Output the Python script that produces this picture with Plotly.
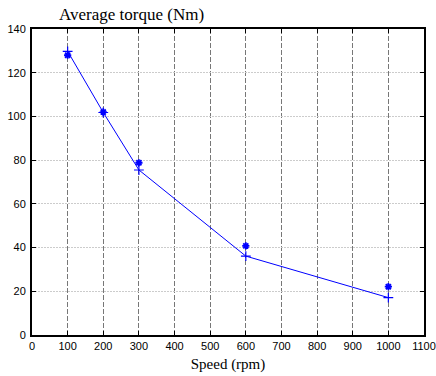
import plotly.graph_objects as go

speed = [100, 200, 300, 600, 1000]
torque_line = [129.8, 101.8, 75.5, 36.1, 17.1]
torque_star = [128.0, 102.0, 78.8, 40.8, 22.1]

x_ticks = list(range(0, 1101, 100))
y_ticks = list(range(0, 141, 20))

SANS = "Liberation Sans"
SERIF = "Liberation Serif"

fig = go.Figure()
fig.add_trace(go.Scatter(
    x=speed, y=torque_line, mode="lines+markers",
    line=dict(color="#0000ff", width=1),
    marker=dict(symbol="cross-thin-open", size=7, color="#0000ff",
                line=dict(color="#0000ff", width=1.2)),
    showlegend=False, cliponaxis=False))
fig.add_trace(go.Scatter(
    x=speed, y=torque_star, mode="markers",
    marker=dict(symbol="asterisk-open", size=6, color="#0000ff",
                line=dict(color="#0000ff", width=1.8)),
    showlegend=False, cliponaxis=False))

axis_common = dict(
    showline=True, linecolor="black", linewidth=2, mirror="ticks",
    ticks="inside", ticklen=4, tickcolor="black",
    tickfont=dict(family=SANS, size=11, color="black"),
    zeroline=False, automargin=False,
)

fig.update_layout(
    width=436, height=376,
    margin=dict(l=32, r=12, t=29, b=41),
    paper_bgcolor="white", plot_bgcolor="white",
    xaxis=dict(range=[0, 1100], tickvals=x_ticks, showgrid=True,
               gridcolor="#777777", griddash="5px,2px", gridwidth=1,
               title=dict(text="Speed (rpm)", standoff=7,
                          font=dict(family=SERIF, size=15, color="black")),
               **axis_common),
    yaxis=dict(range=[0, 140], tickvals=y_ticks, showgrid=True,
               gridcolor="#cccccc", griddash="2px,1px", gridwidth=1,
               ticklabelstandoff=2,
               **axis_common),
    annotations=[dict(text="Average torque (Nm)", xref="paper", yref="paper",
                      x=0.065, y=1.0, xanchor="left", yanchor="bottom", yshift=3,
                      showarrow=False,
                      font=dict(family=SERIF, size=17, color="black"))],
)

fig.write_html("out.html")
